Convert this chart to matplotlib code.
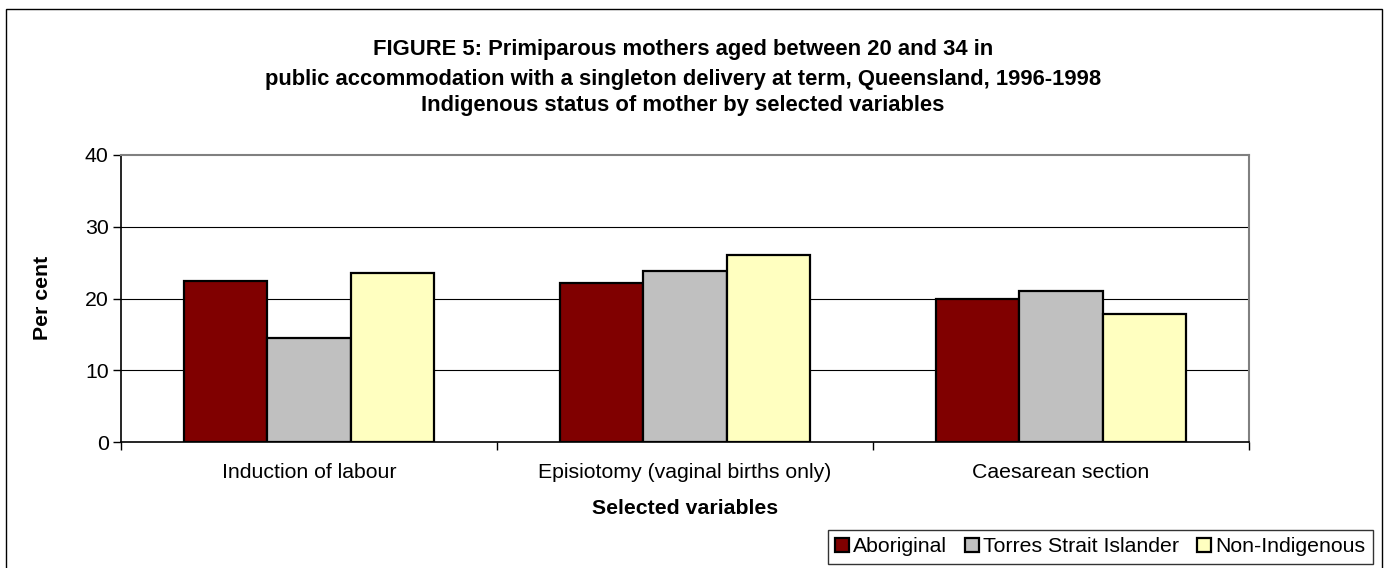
import matplotlib
matplotlib.use("Agg")
import matplotlib.pyplot as plt
from matplotlib.patches import Rectangle
import numpy as np

categories = ["Induction of labour", "Episiotomy (vaginal births only)", "Caesarean section"]
series_names = ["Aboriginal", "Torres Strait Islander", "Non-Indigenous"]
aboriginal = [22.5, 22.1, 20.0]
torres = [14.5, 23.9, 21.0]
non_indigenous = [23.6, 26.0, 17.8]
yticks = [0, 10, 20, 30, 40]
title_lines = ["FIGURE 5: Primiparous mothers aged between 20 and 34 in",
               "public accommodation with a singleton delivery at term, Queensland, 1996-1998",
               "Indigenous status of mother by selected variables"]

colors = ["#800000", "#C0C0C0", "#FFFFC0"]
plt.rcParams['font.family'] = ['Liberation Sans', 'DejaVu Sans']

FS = 15.3
W, H = 1385, 568
fig = plt.figure(figsize=(W / 100, H / 100), dpi=100)
ax = fig.add_axes([121 / W, 1 - 442 / H, (1249 - 121) / W, (442 - 155) / H])

x = np.arange(len(categories))
w = 0.2216
for j, (vals, name, c) in enumerate(zip([aboriginal, torres, non_indigenous], series_names, colors)):
    ax.bar(x + (j - 1) * w, vals, width=w, color=c, edgecolor="black", linewidth=1.6,
           label=name, zorder=3)

ax.set_xlim(-0.5, len(categories) - 0.5)
ax.set_ylim(0, 40)
ax.set_yticks(yticks)
ax.set_yticklabels([str(t) for t in yticks], fontsize=FS)
ax.tick_params(axis='y', direction='out', length=6, width=1, pad=3)
for t in yticks[1:-1]:
    ax.axhline(t, color="black", linewidth=0.8, zorder=1)

ax.set_xticks(np.arange(-0.5, len(categories)))
ax.set_xticklabels([])
ax.tick_params(axis='x', direction='out', length=6, width=1)
for i, cat in enumerate(categories):
    ax.text(i, -0.108, cat, transform=ax.get_xaxis_transform(), ha='center', va='center', fontsize=FS)

ax.spines['top'].set_color('#808080')
ax.spines['right'].set_color('#808080')
ax.spines['top'].set_linewidth(1.5)
ax.spines['right'].set_linewidth(1.5)
ax.spines['left'].set_color('black')
ax.spines['bottom'].set_color('black')
ax.spines['left'].set_linewidth(1.2)
ax.spines['bottom'].set_linewidth(1.2)

fig.text(42 / W, 1 - 298 / H, "Per cent", rotation=90, ha='center', va='center',
         fontsize=FS, fontweight='bold')
fig.text(685 / W, 1 - 508 / H, "Selected variables", ha='center', va='center',
         fontsize=FS, fontweight='bold')

for k, (line, yy) in enumerate(zip(title_lines, [49, 79, 105])):
    fig.text(683 / W, 1 - yy / H, line, ha='center', va='center', fontsize=15.8, fontweight='bold')

leg = fig.legend(loc='upper right', bbox_to_anchor=(1373 / W, 1 - 530 / H), bbox_transform=fig.transFigure,
                 ncol=3, fontsize=FS, frameon=True, fancybox=False, edgecolor='black',
                 handlelength=0.65, handleheight=0.65, handletextpad=0.2, columnspacing=0.85,
                 borderaxespad=0, borderpad=0.35)
leg.get_frame().set_linewidth(1.0)
for hnd in leg.legend_handles:
    hnd.set_linewidth(1.6)

fig.patches.append(Rectangle((6 / W, -0.05), (1382 - 6) / W, 1 - 9 / H + 0.05, transform=fig.transFigure,
                             fill=False, edgecolor='black', linewidth=1.0))

fig.savefig("out.png", dpi=100)
